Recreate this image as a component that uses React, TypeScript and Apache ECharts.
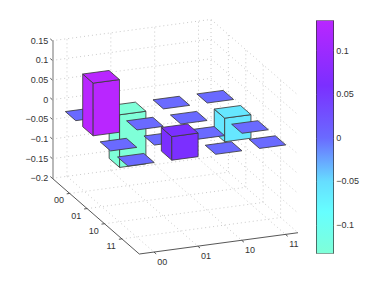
import React, { useEffect, useRef } from "react";
import * as echarts from "echarts";

// Data
const basisLabels = ["00", "01", "10", "11"];
const rowIndex = [1, 2, 3, 4];
const colIndex = [1, 2, 3, 4];
const row00 = [0, -0.134, 0, 0];
const row01 = [0.134, 0, 0, -0.06];
const row10 = [0, 0, 0, 0];
const row11 = [0, 0.06, 0, 0];
const matrixRows = [row00, row01, row10, row11];
const zTickValues = [-0.2, -0.15, -0.1, -0.05, 0, 0.05, 0.1, 0.15];
const colorbarTicks = [-0.1, -0.05, 0, 0.05, 0.1];
const colorbarMin = -0.1325;
const colorbarMax = 0.1344;
const cmapValues = [-0.1325, -0.085, -0.05, 0, 0.06, 0.1344];
const cmapColors = ["#7fffd8", "#66ffff", "#66ddff", "#6a6aff", "#7b2fff", "#b926ff"];

// Scene extents
const xLimits = [0.665, 4.285];
const yLimits = [0, 5];
const zLimits = [-0.2, 0.15];
const halfWidth = 0.3;

// View (orthographic projection)
const frontX = 139.3;
const frontY = 254;
const exX = 43.84;
const exY = -5.88;
const eyX = 17.4;
const eyY = 15.14;
const barShiftX = -0.7;
const barShiftY = 1.5;
const FONT = '9px "Liberation Sans"';
const TEXT = "#333";
const EDGE = "#3c3c3c";

const hexRgb = (h: string) => [1, 3, 5].map((i) => parseInt(h.slice(i, i + 2), 16));
function colorOf(v: number) {
  let i = 0;
  while (i < cmapValues.length - 2 && v > cmapValues[i + 1]) i++;
  const t = Math.min(1, Math.max(0, (v - cmapValues[i]) / (cmapValues[i + 1] - cmapValues[i])));
  const a = hexRgb(cmapColors[i]);
  const b = hexRgb(cmapColors[i + 1]);
  return `rgb(${a.map((c, k) => Math.round(c + (b[k] - c) * t)).join(",")})`;
}

// Floor position of (x, y) plus pixel height taken from the real z axis
function project(x: number, y: number, zPx: number, floorPx: number): [number, number] {
  const dx = x - xLimits[0];
  const dy = y - yLimits[1];
  return [frontX + dx * exX + dy * eyX, frontY + dx * exY + dy * eyY + (zPx - floorPx)];
}

const barCells: number[][] = [];
rowIndex.forEach((y, r) => colIndex.forEach((x, c) => barCells.push([x, y, matrixRows[r][c]])));
barCells.sort((a, b) => a[1] - a[0] - (b[1] - b[0]));

function renderGrid(_p: any, api: any) {
  const floorPx = api.coord([0, zLimits[0]])[1];
  const topPx = api.coord([0, zLimits[1]])[1];
  const children: any[] = [];
  const dotted = (a: number[], b: number[]) =>
    children.push({
      type: "line",
      silent: true,
      shape: { x1: a[0], y1: a[1], x2: b[0], y2: b[1] },
      style: { stroke: "#bdbdbd", lineWidth: 0.8, lineDash: [1, 3] },
    });
  const solid = (a: number[], b: number[], stroke = "#444") =>
    children.push({
      type: "line",
      silent: true,
      shape: { x1: a[0], y1: a[1], x2: b[0], y2: b[1] },
      style: { stroke, lineWidth: 0.9 },
    });
  zTickValues.forEach((z) => {
    const p = api.coord([0, z])[1];
    dotted(project(xLimits[0], yLimits[0], p, floorPx), project(xLimits[1], yLimits[0], p, floorPx));
    dotted(project(xLimits[1], yLimits[0], p, floorPx), project(xLimits[1], yLimits[1], p, floorPx));
    const a = project(xLimits[0], yLimits[0], p, floorPx);
    solid(a, [a[0] - 2, a[1] - 1.8]);
  });
  colIndex.forEach((x, i) => {
    dotted(project(x, yLimits[0], floorPx, floorPx), project(x, yLimits[0], topPx, floorPx));
    dotted(project(x, yLimits[0], floorPx, floorPx), project(x, yLimits[1], floorPx, floorPx));
    const a = project(x, yLimits[1], floorPx, floorPx);
    solid(a, [a[0] + 2.2, a[1] + 1.9]);
    children.push({
      type: "text",
      silent: true,
      style: { text: basisLabels[i], x: a[0] + 8.3, y: a[1] + 9.7, align: "center", verticalAlign: "middle", font: FONT, fill: TEXT },
    });
  });
  rowIndex.forEach((y, i) => {
    dotted(project(xLimits[1], y, floorPx, floorPx), project(xLimits[1], y, topPx, floorPx));
    dotted(project(xLimits[0], y, floorPx, floorPx), project(xLimits[1], y, floorPx, floorPx));
    const a = project(xLimits[0], y, floorPx, floorPx);
    solid(a, [a[0] - 3, a[1] + 0.4]);
    children.push({
      type: "text",
      silent: true,
      style: { text: basisLabels[i], x: a[0] - 10.8, y: a[1] + 7, align: "center", verticalAlign: "middle", font: FONT, fill: TEXT },
    });
  });
  dotted(project(xLimits[1], yLimits[0], floorPx, floorPx), project(xLimits[1], yLimits[0], topPx, floorPx));
  solid(project(xLimits[0], yLimits[0], floorPx, floorPx), project(xLimits[0], yLimits[1], floorPx, floorPx));
  solid(project(xLimits[0], yLimits[1], floorPx, floorPx), project(xLimits[1], yLimits[1], floorPx, floorPx));
  return { type: "group", silent: true, children };
}

function renderBar(_p: any, api: any) {
  const x = api.value(0);
  const y = api.value(1);
  const v = api.value(2);
  const floorPx = api.coord([0, zLimits[0]])[1];
  const hiPx = api.coord([0, Math.max(0, v)])[1];
  const loPx = api.coord([0, Math.min(0, v)])[1];
  const x0 = x - halfWidth;
  const x1 = x + halfWidth;
  const y0 = y - halfWidth;
  const y1 = y + halfWidth;
  const fill = colorOf(v);
  const face = (points: number[][]) => ({
    type: "polygon",
    silent: true,
    shape: { points },
    style: { fill, stroke: EDGE, lineWidth: 0.85, lineJoin: "round" },
  });
  const P = (a: number, b: number, h: number) => {
    const q = project(a, b, h, floorPx);
    return [q[0] + barShiftX, q[1] + barShiftY];
  };
  const children: any[] = [];
  if (v !== 0) {
    children.push(face([P(x0, y0, hiPx), P(x0, y1, hiPx), P(x0, y1, loPx), P(x0, y0, loPx)]));
    children.push(face([P(x0, y1, hiPx), P(x1, y1, hiPx), P(x1, y1, loPx), P(x0, y1, loPx)]));
  }
  children.push(face([P(x0, y0, hiPx), P(x1, y0, hiPx), P(x1, y1, hiPx), P(x0, y1, hiPx)]));
  return { type: "group", silent: true, children };
}

function renderColorbar(_p: any, api: any) {
  const top = api.coord([0, colorbarMax]);
  const bottom = api.coord([1, colorbarMin]);
  const span = colorbarMax - colorbarMin;
  const colorStops = cmapValues
    .map((v, i) => ({ offset: (colorbarMax - v) / span, color: cmapColors[i] }))
    .reverse();
  return {
    type: "rect",
    silent: true,
    shape: { x: top[0], y: top[1], width: bottom[0] - top[0], height: bottom[1] - top[1] },
    style: { fill: new echarts.graphic.LinearGradient(0, 0, 0, 1, colorStops) },
  };
}

const fmt = (v: number) => String(+Number(v).toFixed(2)).replace("-", "\u2212");

export default function App() {
  const ref = useRef<HTMLDivElement>(null);
  useEffect(() => {
    const chart = echarts.init(ref.current!, undefined, { renderer: "svg" });
    chart.setOption({
      animation: false,
      backgroundColor: "#fff",
      grid: [
        { left: 52.3, top: 40.7, width: 1, height: 137.6 },
        { left: 316.7, top: 20.7, width: 16.6, height: 232.6 },
      ],
      xAxis: [
        { gridIndex: 0, type: "value", min: 0, max: 1, show: false },
        {
          gridIndex: 1, type: "value", min: 0, max: 1, position: "bottom",
          axisLine: { show: true, onZero: false, lineStyle: { color: "#888", width: 1 } },
          axisTick: { show: false }, axisLabel: { show: false }, splitLine: { show: false },
        },
        {
          gridIndex: 1, type: "value", min: 0, max: 1, position: "top",
          axisLine: { show: true, onZero: false, lineStyle: { color: "#888", width: 1 } },
          axisTick: { show: false }, axisLabel: { show: false }, splitLine: { show: false },
        },
      ],
      yAxis: [
        {
          gridIndex: 0, type: "value", min: zLimits[0], max: zLimits[1], interval: 0.05, position: "left",
          axisLine: { show: true, onZero: false, lineStyle: { color: "#a8a8a8", width: 1.6 } },
          axisTick: { show: false }, splitLine: { show: false },
          axisLabel: {
            margin: 4, formatter: fmt, color: TEXT, fontSize: 9, fontFamily: "Liberation Sans",
            padding: [0, 0, 4, 0], showMinLabel: true, showMaxLabel: true,
          },
        },
        {
          gridIndex: 1, type: "value", min: colorbarMin, max: colorbarMax, position: "right",
          axisLine: { show: true, onZero: false, lineStyle: { color: "#333", width: 1 } },
          axisTick: { show: true, inside: true, length: 2, customValues: colorbarTicks, lineStyle: { color: "#777", width: 1 } },
          splitLine: { show: false },
          axisLabel: {
            margin: 3, formatter: fmt, color: TEXT, fontSize: 9, fontFamily: "Liberation Sans",
            customValues: colorbarTicks,
          },
        },
        {
          gridIndex: 1, type: "value", min: colorbarMin, max: colorbarMax, position: "left",
          axisLine: { show: true, onZero: false, lineStyle: { color: "#333", width: 1 } },
          axisTick: { show: true, inside: true, length: 2, customValues: colorbarTicks, lineStyle: { color: "#777", width: 1 } },
          splitLine: { show: false }, axisLabel: { show: false },
        },
      ],
      series: [
        { type: "custom", xAxisIndex: 0, yAxisIndex: 0, silent: true, z: 1, clip: false, data: [[0, 0]], renderItem: renderGrid },
        { type: "custom", xAxisIndex: 0, yAxisIndex: 0, silent: true, z: 2, clip: false, data: barCells, renderItem: renderBar },
        { type: "custom", xAxisIndex: 1, yAxisIndex: 1, silent: true, z: 1, clip: false, data: [[0, 0]], renderItem: renderColorbar },
      ],
    });
    return () => chart.dispose();
  }, []);
  return <div ref={ref} style={{ position: "absolute", left: 0, top: 0, width: 382, height: 287 }} />;
}
